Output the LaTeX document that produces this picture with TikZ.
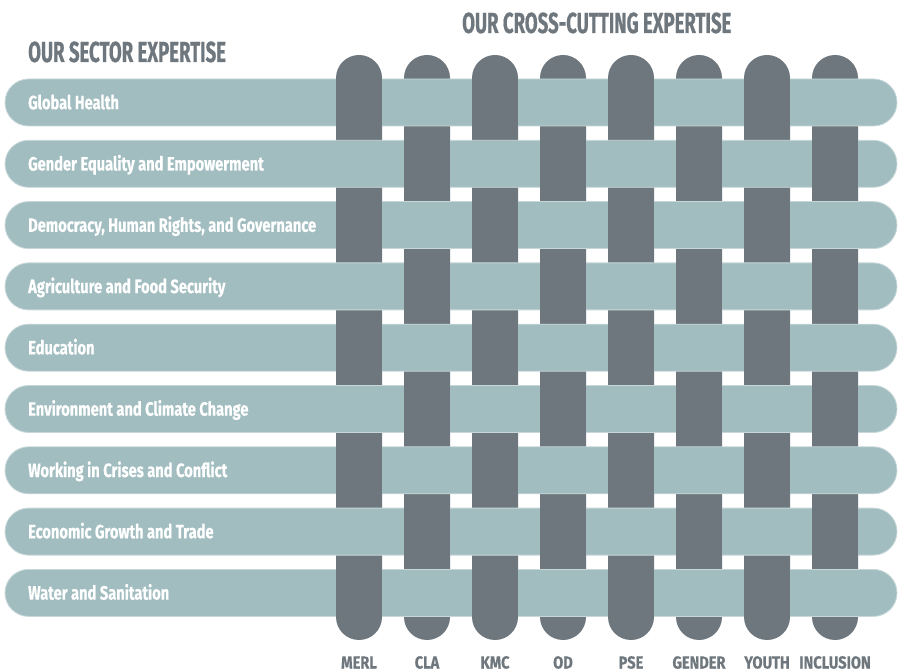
\documentclass[tikz,border=0pt]{standalone}
\usepackage{fontspec}
\setmainfont{Fira Sans}
\newfontfamily\labfont{Fira Sans}[FakeStretch=0.76,FakeBold=0.4]
\newfontfamily\colfont{Fira Sans}[FakeStretch=0.84,FakeBold=0.4]
\newfontfamily\headfont{Fira Sans}[FakeStretch=0.64,FakeBold=0.5]
\definecolor{weft}{HTML}{A2BDC0}
\definecolor{weftedge}{HTML}{C8D8DA}
\definecolor{warp}{HTML}{6E777D}
\definecolor{headgray}{HTML}{6E777D}
\begin{document}
\begin{tikzpicture}[x=1pt,y=-1pt,
  rowlabel/.style={anchor=base west,inner sep=0pt,text=white,font=\labfont\bfseries\fontsize{19.3}{20}\selectfont},
  collabel/.style={anchor=base,inner sep=0pt,text=headgray,font=\colfont\bfseries\fontsize{17.4}{18}\selectfont},
  heading/.style={anchor=base west,inner sep=0pt,text=headgray,font=\headfont\bfseries\fontsize{29}{30}\selectfont},
  warpbar/.style={fill=warp,rounded corners=23pt},
  weftbar/.style={fill=weft,draw=weftedge,line width=0.8pt,rounded corners=23.5pt},
  warpover/.style={fill=warp}]
\useasboundingbox (0,0) rectangle (898,671);
\fill[white] (0,0) rectangle (898,671);
% vertical (cross-cutting) bars
\foreach \j in {0,...,7}
  \path[warpbar] ({359+68*\j-23},55) rectangle ({359+68*\j+23},640);
% horizontal (sector) bars
\foreach \i in {0,...,8}
  \path[weftbar] (5,{102.5+61.3*\i-23.5}) rectangle (897,{102.5+61.3*\i+23.5});
% crossings where the vertical bar lies on top
\foreach \i in {0,...,8}
  \foreach \j in {0,...,7}{
    \pgfmathtruncatemacro{\parity}{mod(\i+\j,2)}
    \ifnum\parity=0
      \path[warpover] ({359+68*\j-23},{102.5+61.3*\i-24.5}) rectangle ({359+68*\j+23},{102.5+61.3*\i+24.5});
    \fi
  }
% headings
\node[heading] (hsector) at (28,62) {OUR SECTOR EXPERTISE};
\node[heading] (hcross) at (462,33) {OUR CROSS-CUTTING EXPERTISE};
% row labels
\foreach \t [count=\i from 0] in {{Global Health},{Gender Equality and Empowerment},{Democracy, Human Rights, and Governance},{Agriculture and Food Security},{Education},{Environment and Climate Change},{Working in Crises and Conflict},{Economic Growth and Trade},{Water and Sanitation}}
  \node[rowlabel] (row\i) at (28,{102.5+61.3*\i+6.7}) {\t};
% column labels
\foreach \t [count=\j from 0] in {MERL,CLA,KMC,OD,PSE,GENDER,YOUTH,INCLUSION}
  \node[collabel] (col\j) at ({359+68*\j},668.5) {\t};
\end{tikzpicture}
\end{document}
